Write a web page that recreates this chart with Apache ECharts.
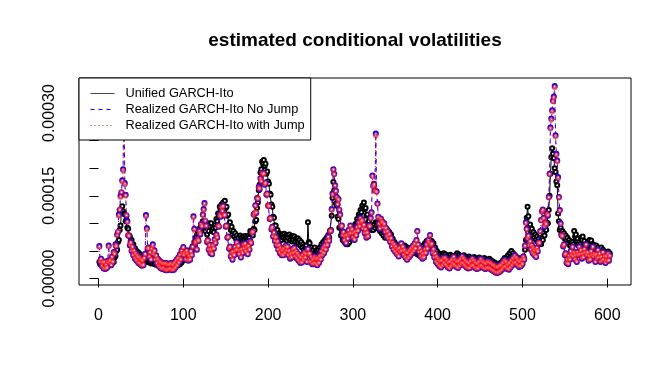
<!DOCTYPE html>
<html>
<head>
<meta charset="utf-8">
<script src="https://cdn.jsdelivr.net/npm/echarts@6/dist/echarts.min.js"></script>
<style>
html,body{margin:0;padding:0;background:#fff;}
#chart{width:672px;height:384px;}
</style>
</head>
<body>
<div id="chart"></div>
<script>
// values are in units of 1e-6 (axis labels convert back)
const titleText = "estimated conditional volatilities";
const seriesNames = ["Unified GARCH-Ito", "Realized GARCH-Ito No Jump", "Realized GARCH-Ito with Jump"];
const xTicks = [0, 100, 200, 300, 400, 500, 600];
const yTicks = [0, 50, 100, 150, 200, 250, 300, 350];
const yLabels = [0, 150, 300];

const unified = [
30,26,29,24,28,25,27,23,26,24,28,25,27,24,29,27,33,30,38,41,
50,52,66,70,88,96,120,131,122,118,116,104,106,92,90,78,76,68,70,60,
62,52,55,47,50,43,47,40,44,38,41,35,38,33,37,31,35,30,34,29,
32,27,33,28,30,26,31,25,30,27,28,24,29,25,27,23,27,22,26,23,
25,21,25,20,26,22,24,21,26,20,25,23,27,24,30,26,32,29,36,33,
40,36,44,39,46,41,48,44,52,49,58,55,66,62,75,70,85,80,90,84,
96,90,104,94,98,86,92,80,92,86,100,94,100,86,92,84,96,92,108,104,
118,112,130,124,134,122,138,130,141,128,130,114,116,98,102,88,94,80,86,76,
82,72,78,68,74,66,78,70,75,66,76,70,77,68,75,69,78,74,86,80,
84,78,90,88,104,106,128,138,160,170,192,198,212,208,215,204,208,190,194,176,
172,154,152,134,130,112,110,96,96,84,88,76,82,72,80,70,80,74,81,71,
78,69,79,73,80,70,76,67,77,70,76,66,72,63,73,64,70,60,66,56,
62,52,59,50,60,54,102,66,64,52,56,46,52,46,56,45,51,42,52,46,
56,51,62,56,66,60,70,64,74,68,79,74,86,88,114,146,175,160,152,136,
132,112,108,92,92,78,82,70,76,66,72,62,69,62,72,66,76,71,82,78,
90,86,99,96,108,104,116,112,124,120,132,128,138,126,128,114,116,102,104,92,
98,88,94,88,98,92,102,96,101,90,96,86,92,82,88,78,84,74,84,78,
88,78,84,74,80,68,72,61,66,56,62,52,59,50,57,48,55,46,56,50,
60,51,57,48,55,46,53,44,54,48,58,49,56,46,53,44,51,42,52,46,
56,50,60,54,64,58,68,58,64,54,64,58,68,58,64,52,56,44,50,40,
46,37,44,35,42,36,46,37,44,34,41,32,42,36,43,34,41,32,39,32,
42,36,46,37,43,33,40,31,38,32,42,33,39,30,37,31,40,30,37,28,
35,29,39,30,36,27,34,28,38,29,35,26,33,27,37,28,34,25,32,26,
36,27,33,24,31,22,29,20,27,18,25,18,27,20,29,23,33,27,37,28,
38,32,42,36,46,40,50,40,46,36,42,32,39,30,37,28,35,26,36,30,
40,36,52,70,110,130,113,96,98,86,90,78,84,74,80,70,76,66,72,62,
68,62,74,70,82,78,90,88,101,100,124,150,190,220,236,226,218,200,193,176,
169,118,104,88,92,81,86,76,82,72,78,68,74,64,70,60,66,56,66,62,
86,76,80,68,72,60,66,62,74,70,76,64,68,56,62,56,66,60,70,61,
69,58,62,50,60,54,60,50,56,46,52,46,56,46,52,42,48,38,48,42,
49,39,46
];

const noJump = [
59,30,36,22,30,18,31,17,26,19,32,60,29,34,24,40,30,48,44,62,
58,80,84,116,124,150,156,178,198,340,173,152,114,104,78,78,60,66,50,58,
42,51,36,46,32,42,28,39,26,36,23,34,24,38,45,115,91,54,56,39,
48,34,55,62,44,51,34,42,27,36,22,32,19,30,17,28,18,28,15,28,
15,26,16,27,17,28,15,26,16,30,20,34,24,38,29,44,34,51,44,57,
42,48,34,51,44,32,42,34,50,42,58,113,90,64,68,52,72,68,86,80,
99,94,116,126,137,104,96,66,70,52,61,46,54,44,61,54,71,64,80,74,
96,94,116,112,130,122,132,114,116,94,96,74,76,54,58,40,48,34,50,42,
58,50,66,52,60,44,52,38,54,46,62,54,64,49,58,44,60,52,68,64,
84,84,116,118,133,119,146,144,166,162,182,176,192,191,191,170,174,152,154,132,
132,108,110,89,94,76,84,68,76,60,68,52,61,46,56,42,52,42,56,46,
60,50,58,42,51,36,46,38,54,46,56,40,50,36,46,32,42,28,39,29,
44,34,48,38,46,30,54,44,46,30,40,26,36,26,40,27,37,24,38,28,
42,34,50,42,56,46,61,52,68,60,76,68,86,86,126,154,198,190,169,159,
148,134,144,124,116,94,96,78,85,69,78,64,80,72,88,80,96,82,90,74,
84,70,86,78,94,86,102,94,110,102,106,90,98,82,90,74,84,76,96,94,
110,120,187,168,172,160,263,158,136,112,100,90,109,104,103,92,100,84,92,76,
86,72,81,66,74,58,66,52,62,48,58,44,54,40,56,48,64,50,58,42,
52,38,48,34,48,38,52,42,56,46,60,50,64,54,70,86,62,48,56,40,
50,36,46,38,54,46,62,54,70,64,79,60,64,46,54,38,46,30,40,26,
36,22,33,20,34,24,38,28,38,24,34,20,31,18,32,22,36,26,40,24,
34,21,32,19,33,23,37,27,41,27,37,23,33,20,31,18,29,19,33,23,
37,23,33,19,30,17,28,18,32,22,36,22,32,19,30,17,28,18,32,19,
30,17,28,15,26,13,24,11,22,10,22,11,24,13,26,16,30,20,34,21,
31,17,27,16,30,20,34,24,38,28,42,28,38,24,34,21,32,22,36,26,
40,34,60,102,90,72,78,60,68,52,61,46,56,42,52,39,56,49,66,64,
86,106,122,125,110,94,102,98,118,114,148,190,274,290,305,323,330,349,260,226,
214,184,148,124,100,78,78,58,62,42,46,28,36,26,42,34,50,42,58,40,
48,34,44,30,48,42,58,44,52,36,46,38,54,46,62,42,48,32,42,34,
50,42,58,40,46,30,44,36,52,38,46,30,40,32,48,34,42,28,42,32,
46,32,42
];

const withJump = [
57,31,35,23,29,19,30,18,25,20,31,58,30,33,25,39,31,47,45,60,
59,79,85,114,125,148,157,176,196,336,171,150,115,102,79,77,61,65,51,57,
43,50,37,45,33,41,29,38,27,35,24,33,25,37,44,113,89,55,55,40,
47,35,54,60,45,50,35,41,28,35,23,31,20,29,18,27,19,27,16,27,
16,25,17,26,18,27,16,25,17,29,21,33,25,37,30,43,35,50,45,56,
43,47,35,50,45,33,41,35,49,43,57,111,89,65,67,53,71,69,85,81,
98,95,115,124,135,105,95,67,69,53,60,47,53,45,60,55,70,65,79,75,
95,95,115,113,129,123,131,115,115,95,95,75,75,55,57,41,47,35,49,43,
57,51,65,53,59,45,51,39,53,47,61,55,63,50,57,45,59,53,67,65,
83,85,115,119,132,120,145,145,165,163,181,177,191,190,190,171,173,153,153,133,
131,109,109,90,93,77,83,69,75,61,67,53,60,47,55,43,51,43,55,47,
59,51,57,43,50,37,45,39,53,47,55,41,49,37,45,33,41,29,38,30,
43,35,47,39,45,31,53,45,45,31,39,27,35,27,39,28,36,25,37,29,
41,35,49,43,55,47,60,53,67,61,75,69,85,87,124,152,197,189,168,158,
147,135,143,125,115,95,95,79,84,70,77,65,79,73,87,81,95,83,89,75,
83,71,85,79,93,87,101,95,109,103,105,91,97,83,89,75,83,77,95,95,
109,119,185,167,170,159,260,157,135,111,99,91,108,103,102,93,99,85,91,77,
85,73,80,67,73,59,65,53,61,49,57,45,53,41,55,49,63,51,57,43,
51,39,47,35,47,39,51,43,55,47,59,51,63,55,69,85,61,49,55,41,
49,37,45,39,53,47,61,55,69,65,78,61,63,47,53,39,45,31,39,27,
35,23,32,21,33,25,37,29,37,25,33,21,30,19,31,23,35,27,39,25,
33,22,31,20,32,24,36,28,40,28,36,24,32,21,30,19,28,20,32,24,
36,24,32,20,29,18,27,19,31,23,35,23,31,20,29,18,27,19,31,20,
29,18,27,16,25,14,23,12,21,11,21,12,23,14,25,17,29,21,33,22,
30,18,26,17,29,21,33,25,37,29,41,29,37,25,33,22,31,23,35,27,
39,35,59,100,89,73,77,61,67,53,60,47,55,43,51,40,55,50,65,65,
85,105,121,124,109,95,101,99,117,115,147,189,272,288,303,321,328,347,258,224,
212,182,147,123,99,79,77,59,61,43,45,29,35,27,41,35,49,43,57,41,
47,35,43,31,47,43,57,45,51,37,45,39,53,47,61,43,47,33,41,35,
49,43,57,41,45,31,43,37,51,39,45,31,39,33,47,35,41,29,41,33,
45,33,41
];

const toPairs = arr => arr.map((v, i) => [i + 1, v]);

const chart = echarts.init(document.getElementById('chart'), null, {renderer: 'canvas'});
const FONT = '"Liberation Sans", Arial, Helvetica, sans-serif';

const option = {
  animation: false,
  backgroundColor: '#fff',
  title: {
    text: titleText,
    left: 350, top: 26, textAlign: 'center',
    textStyle: {fontFamily: FONT, fontWeight: 'bold', fontSize: 19, color: '#000'}
  },
  grid: {left: 79, right: 41, top: 78, bottom: 99, show: true, borderColor: '#000', borderWidth: 1, backgroundColor: 'transparent'},
  legend: {
    orient: 'vertical', left: 79, top: 78,
    backgroundColor: '#fff', borderColor: '#000', borderWidth: 1, borderRadius: 0,
    padding: [9, 6, 8, 11],
    itemWidth: 24, itemHeight: 10, itemGap: 3,
    itemStyle: {opacity: 0},
    lineStyle: {width: 1},
    textStyle: {fontFamily: FONT, fontSize: 12.8, color: '#000', lineHeight: 13, padding: [0, 0, 0, 6]},
    z: 20,
    data: [
      {name: seriesNames[0], lineStyle: {color: '#444', width: 1, type: 'solid'}},
      {name: seriesNames[1], lineStyle: {color: '#0000ff', width: 1, type: [4, 4]}},
      {name: seriesNames[2], lineStyle: {color: '#ff0000', width: 1, type: [1, 3]}}
    ]
  },
  xAxis: {
    type: 'value', min: -23, max: 628,
    splitLine: {show: false},
    axisLine: {show: false},
    axisTick: {show: true, length: 9, inside: false, customValues: xTicks, lineStyle: {color: '#000'}},
    axisLabel: {customValues: xTicks, margin: 23, fontFamily: FONT, fontSize: 16, color: '#000'}
  },
  yAxis: {
    type: 'value', min: -11.8, max: 363.6,
    splitLine: {show: false},
    axisLine: {show: false},
    axisTick: {show: true, length: 9, customValues: yTicks, lineStyle: {color: '#000'}},
    axisLabel: {
      customValues: yLabels, rotate: 90, margin: 21,
      fontFamily: FONT, fontSize: 16, color: '#000',
      formatter: v => (v * 1e-6).toFixed(5)
    }
  },
  series: [
    {
      name: seriesNames[0], type: 'line', data: toPairs(unified),
      symbol: 'emptyCircle', symbolSize: 4, showAllSymbol: true,
      lineStyle: {color: '#000', width: 1, type: 'solid'},
      itemStyle: {color: '#000', borderColor: '#000', borderWidth: 1},
      emphasis: {disabled: true}, z: 2
    },
    {
      name: seriesNames[1], type: 'line', data: toPairs(noJump),
      symbol: 'emptyCircle', symbolSize: 4, showAllSymbol: true,
      lineStyle: {color: '#0000ff', width: 1, type: [4, 4]},
      itemStyle: {color: '#0000ff', borderColor: '#0000ff', borderWidth: 1},
      emphasis: {disabled: true}, z: 3
    },
    {
      name: seriesNames[2], type: 'line', data: toPairs(withJump),
      symbol: 'emptyCircle', symbolSize: 4, showAllSymbol: true,
      lineStyle: {color: '#ff0000', width: 1, type: [1, 3]},
      itemStyle: {color: '#ff0000', borderColor: '#ff0000', borderWidth: 1, opacity: 0.5},
      emphasis: {disabled: true}, z: 4
    }
  ]
};
chart.setOption(option);
</script>
</body>
</html>
